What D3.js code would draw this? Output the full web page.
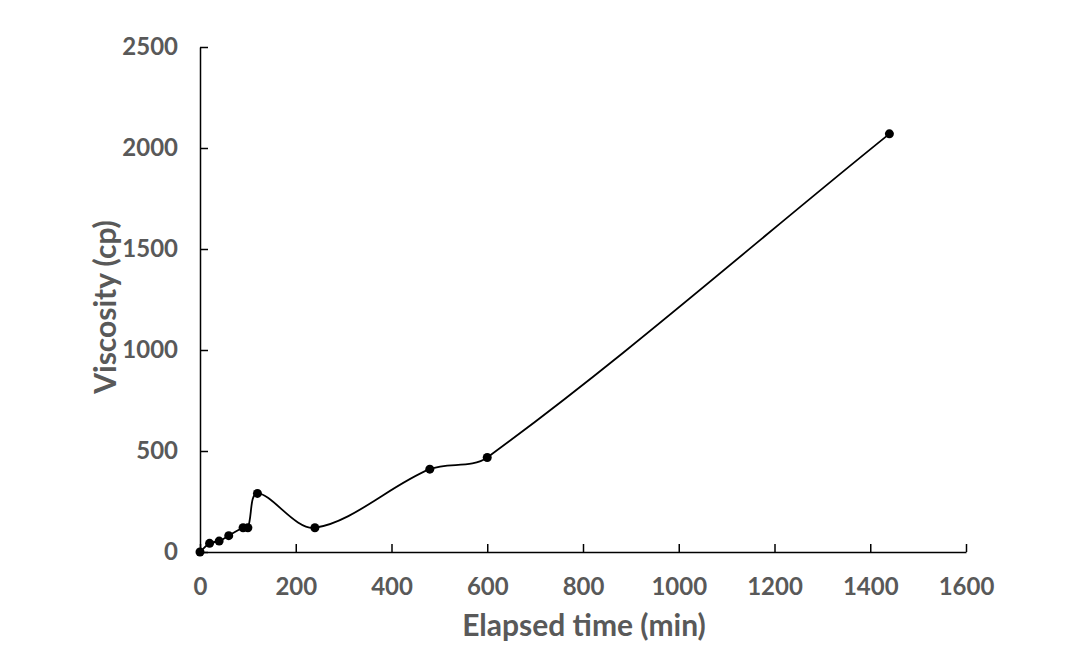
<!DOCTYPE html>
<html><head><meta charset="utf-8">
<script src="https://cdn.jsdelivr.net/npm/d3@7/dist/d3.min.js"></script>
<style>body{margin:0;background:#fff;} text{font-family:Lato, "Open Sans", sans-serif;font-weight:bold;fill:#595959;}</style>
</head><body>
<svg id="c" width="1070" height="655"></svg>
<script>
const elapsedMin = [0, 20, 40, 60, 90, 100, 120, 240, 480, 600, 1440];
const viscosityCp = [0, 43, 54, 81, 120, 120, 290, 120, 410, 468, 2070];
const xTicks = [0, 200, 400, 600, 800, 1000, 1200, 1400, 1600];
const yTicks = [0, 500, 1000, 1500, 2000, 2500];
const xTitle = "Elapsed time (min)";
const yTitle = "Viscosity (cp)";

// Spreadsheet-style smoothing: tangent = P[i+1]-P[i-1], scaled by segment-length ratio
function curveSmoothSheet(context) {
  let pts = [];
  const s = 1 / 3;
  return {
    areaStart() {}, areaEnd() {},
    lineStart() { pts = []; },
    point(x, y) { pts.push([+x, +y]); },
    lineEnd() {
      const n = pts.length;
      if (!n) return;
      context.moveTo(pts[0][0], pts[0][1]);
      if (n === 1) return;
      const d = [];
      for (let i = 0; i < n - 1; i++) d.push(Math.hypot(pts[i+1][0]-pts[i][0], pts[i+1][1]-pts[i][1]) || 1e-6);
      const T = pts.map((p, i) => {
        const a = pts[Math.max(0, i - 1)], b = pts[Math.min(n - 1, i + 1)];
        return [b[0] - a[0], b[1] - a[1]];
      });
      for (let i = 0; i < n - 1; i++) {
        const p0 = pts[i], p1 = pts[i+1];
        let f0 = (i === 0) ? s : s * d[i] / (d[i-1] + d[i]);
        let f1 = (i + 1 === n - 1) ? s : s * d[i] / (d[i] + d[i+1]);
        const c1 = [p0[0] + f0 * T[i][0], p0[1] + f0 * T[i][1]];
        const c2 = [p1[0] - f1 * T[i+1][0], p1[1] - f1 * T[i+1][1]];
        context.bezierCurveTo(c1[0], c1[1], c2[0], c2[1], p1[0], p1[1]);
      }
    }
  };
}

const svg = d3.select("#c");
const x = d3.scaleLinear().domain([0, 1600]).range([200, 966]);
const y = d3.scaleLinear().domain([0, 2500]).range([552, 47]);
const fmt = d3.format("d");

const xAxis = svg.append("g").attr("transform", "translate(0,552)")
  .call(d3.axisBottom(x).tickValues(xTicks).tickFormat(fmt).tickSizeInner(-8).tickSizeOuter(0).tickPadding(26));
const yAxis = svg.append("g").attr("transform", "translate(200,0)")
  .call(d3.axisLeft(y).tickValues(yTicks).tickFormat(fmt).tickSizeInner(-8).tickSizeOuter(0).tickPadding(22));
[xAxis, yAxis].forEach(a => {
  a.select(".domain").attr("stroke", "#000").attr("stroke-width", 1.5);
  a.selectAll(".tick line").attr("stroke", "#000").attr("stroke-width", 1.5);
  a.selectAll(".tick text").style("font-size", "24px").attr("fill", "#595959");
});

const pts = elapsedMin.map((d, i) => [d, viscosityCp[i]]);
const line = d3.line().x(d => x(d[0])).y(d => y(d[1])).curve(curveSmoothSheet);
svg.append("path").attr("d", line(pts)).attr("fill", "none").attr("stroke", "#000").attr("stroke-width", 1.8);
svg.selectAll("circle.pt").data(pts).enter().append("circle")
  .attr("cx", d => x(d[0])).attr("cy", d => y(d[1])).attr("r", 4.5).attr("fill", "#000");

svg.append("text").attr("x", 584).attr("y", 636).attr("text-anchor", "middle")
  .style("font-size", "30px").text(xTitle);
svg.append("text").attr("transform", "translate(116,307) rotate(-90)").attr("text-anchor", "middle")
  .style("font-size", "30px").text(yTitle);
</script>
</body></html>
